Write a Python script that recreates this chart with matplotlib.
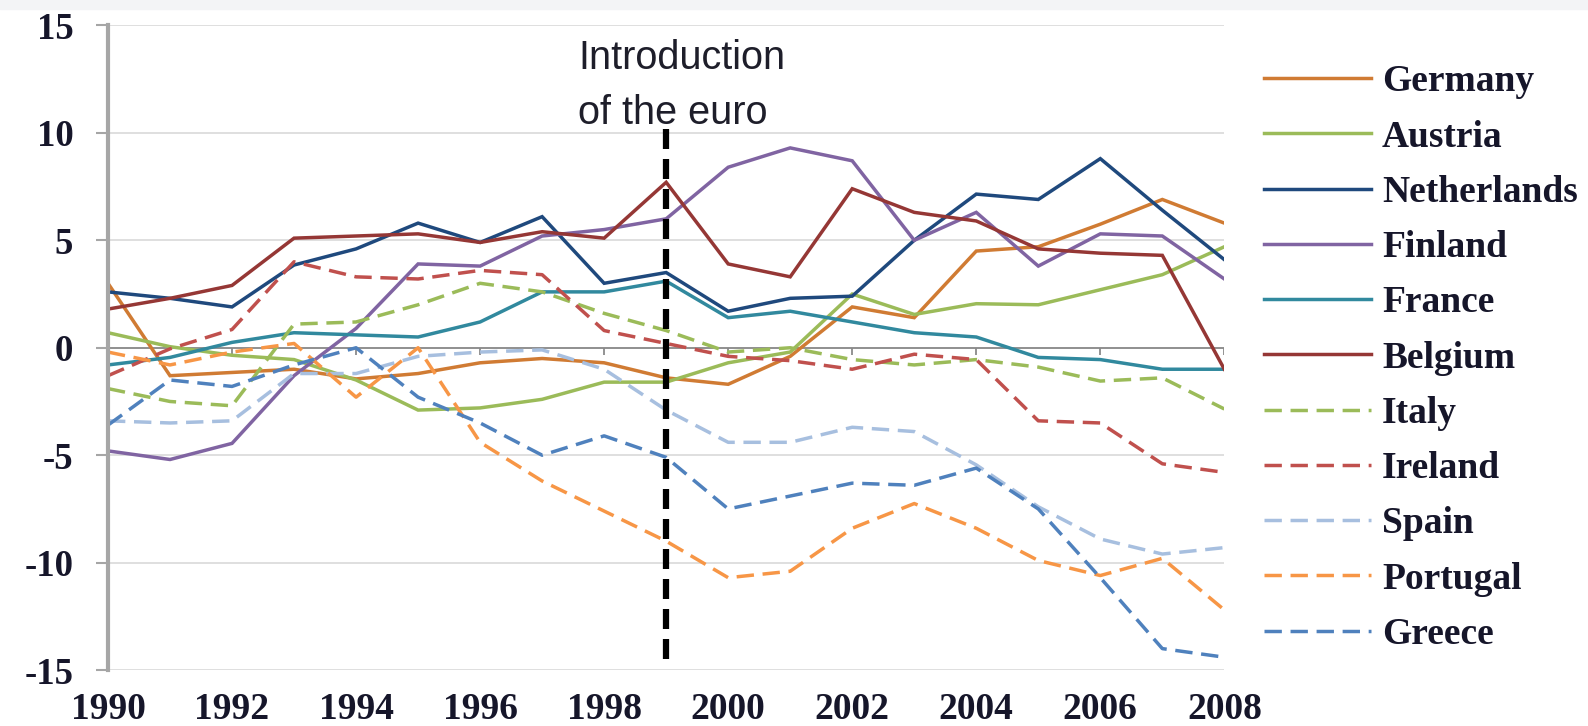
"""Current account balances of euro-area countries, 1990-2008."""

import matplotlib
import matplotlib.pyplot as plt
import numpy as np

matplotlib.use("Agg")
plt.rcParams["axes.unicode_minus"] = False

# ── Data ─────────────────────────────────────────────────────────────────────

YEARS = np.arange(1990, 2009)

GERMANY = [3.0, -1.3, -1.15, -1.0, -1.45, -1.2, -0.7, -0.5, -0.7, -1.4,
           -1.7, -0.4, 1.9, 1.4, 4.5, 4.7, 5.75, 6.9, 5.8]
AUSTRIA = [0.7, 0.05, -0.35, -0.55, -1.5, -2.9, -2.8, -2.4, -1.6, -1.6,
           -0.7, -0.2, 2.5, 1.55, 2.05, 2.0, 2.7, 3.4, 4.7]
NETHERLANDS = [2.6, 2.3, 1.9, 3.85, 4.6, 5.8, 4.9, 6.1, 3.0, 3.5,
               1.7, 2.3, 2.4, 5.0, 7.15, 6.9, 8.8, 6.4, 4.1]
FINLAND = [-4.8, -5.2, -4.45, -1.3, 0.9, 3.9, 3.8, 5.2, 5.5, 6.0,
           8.4, 9.3, 8.7, 5.0, 6.3, 3.8, 5.3, 5.2, 3.2]
FRANCE = [-0.8, -0.45, 0.25, 0.7, 0.6, 0.5, 1.2, 2.6, 2.6, 3.1,
          1.4, 1.7, 1.2, 0.7, 0.5, -0.45, -0.55, -1.0, -1.0]
BELGIUM = [1.8, 2.3, 2.9, 5.1, 5.2, 5.3, 4.9, 5.4, 5.1, 7.7,
           3.9, 3.3, 7.4, 6.3, 5.9, 4.6, 4.4, 4.3, -1.0]
ITALY = [-1.9, -2.5, -2.7, 1.1, 1.2, 2.0, 3.0, 2.6, 1.6, 0.8,
         -0.2, 0.0, -0.55, -0.8, -0.55, -0.9, -1.55, -1.4, -2.85]
IRELAND = [-1.3, -0.05, 0.85, 4.0, 3.3, 3.2, 3.6, 3.4, 0.8, 0.2,
           -0.4, -0.6, -1.0, -0.3, -0.55, -3.4, -3.5, -5.4, -5.8]
SPAIN = [-3.4, -3.5, -3.4, -1.2, -1.2, -0.4, -0.2, -0.1, -1.0, -2.9,
         -4.4, -4.4, -3.7, -3.9, -5.45, -7.4, -8.9, -9.6, -9.3]
PORTUGAL = [-0.2, -0.8, -0.2, 0.2, -2.3, 0.0, -4.4, -6.2, -7.6, -9.0,
            -10.7, -10.4, -8.4, -7.25, -8.4, -9.9, -10.6, -9.8, -12.2]
GREECE = [-3.6, -1.5, -1.8, -0.8, 0.0, -2.3, -3.5, -5.0, -4.1, -5.1,
          -7.5, -6.9, -6.3, -6.4, -5.6, -7.5, -10.7, -14.0, -14.4]

EURO_YEAR = 1999
EURO_LABEL = "Introduction\nof the euro"

SERIES = [
    ("Germany", GERMANY, "#d07b33", "-"),
    ("Austria", AUSTRIA, "#9bbb59", "-"),
    ("Netherlands", NETHERLANDS, "#1f497d", "-"),
    ("Finland", FINLAND, "#8064a2", "-"),
    ("France", FRANCE, "#31899e", "-"),
    ("Belgium", BELGIUM, "#953735", "-"),
    ("Italy", ITALY, "#9bbb59", "--"),
    ("Ireland", IRELAND, "#c0504d", "--"),
    ("Spain", SPAIN, "#a7bfdf", "--"),
    ("Portugal", PORTUGAL, "#f79646", "--"),
    ("Greece", GREECE, "#4f81bd", "--"),
]

SERIF = ["Liberation Serif", "DejaVu Serif"]
TEXT_COLOR = "#16162a"

# ── Chart ────────────────────────────────────────────────────────────────────

fig = plt.figure(figsize=(15.88, 7.26), dpi=100)
fig.patches.append(
    plt.Rectangle((0, 0.988), 1, 0.012, transform=fig.transFigure,
                  color="#f3f4f6", zorder=0)
)
ax = fig.add_axes([0.068, 0.077, 0.703, 0.888])

for name, vals, color, ls in SERIES:
    kw = {"dashes": (5, 2.5)} if ls == "--" else {}
    ax.plot(YEARS, vals, color=color, lw=2.5, label=name,
            solid_joinstyle="miter", **kw)

ax.vlines(EURO_YEAR, -14.5, 10.4, color="black", lw=4.5,
          linestyles=(0, (3.2, 1.6)), zorder=5)
ax.text(EURO_YEAR - 1.42, 12.2, EURO_LABEL, ha="left", va="center",
        fontsize=28.5, family=["Liberation Sans", "DejaVu Sans"],
        color="#1e1e2a", linespacing=1.57)

ax.set_xlim(1990, 2008)
ax.set_ylim(-15, 15)
ax.set_yticks(np.arange(-15, 16, 5))
ax.set_xticks(np.arange(1990, 2009, 2))
ax.grid(axis="y", color="#d9d9d9", lw=1.2)
ax.set_axisbelow(True)
ax.axhline(0, color="#8a8a8a", lw=1.3, zorder=1)
ax.vlines(np.arange(1992, 2009, 2), -0.35, 0, color="#8a8a8a", lw=1.3,
          zorder=1)

for side in ["top", "right", "bottom"]:
    ax.spines[side].set_visible(False)
ax.spines["left"].set_color("#a6a6a6")
ax.spines["left"].set_linewidth(3)
ax.tick_params(axis="y", length=9, width=1.5, color="#a6a6a6", pad=16,
               labelsize=26.5, labelcolor=TEXT_COLOR)
ax.tick_params(axis="x", length=0, pad=16, labelsize=27,
               labelcolor=TEXT_COLOR)
for lab in ax.get_xticklabels() + ax.get_yticklabels():
    lab.set_family(SERIF)
    lab.set_fontweight("bold")

leg = ax.legend(loc="upper left", bbox_to_anchor=(1.022, 0.963), frameon=False,
                prop={"family": SERIF, "size": 27, "weight": "bold"},
                handlelength=2.85, handletextpad=0.3, labelspacing=0.54,
                borderaxespad=0)
for txt in leg.get_texts():
    txt.set_color(TEXT_COLOR)

fig.savefig("out.png", dpi=100)
plt.close(fig)
print("Saved: out.png")
